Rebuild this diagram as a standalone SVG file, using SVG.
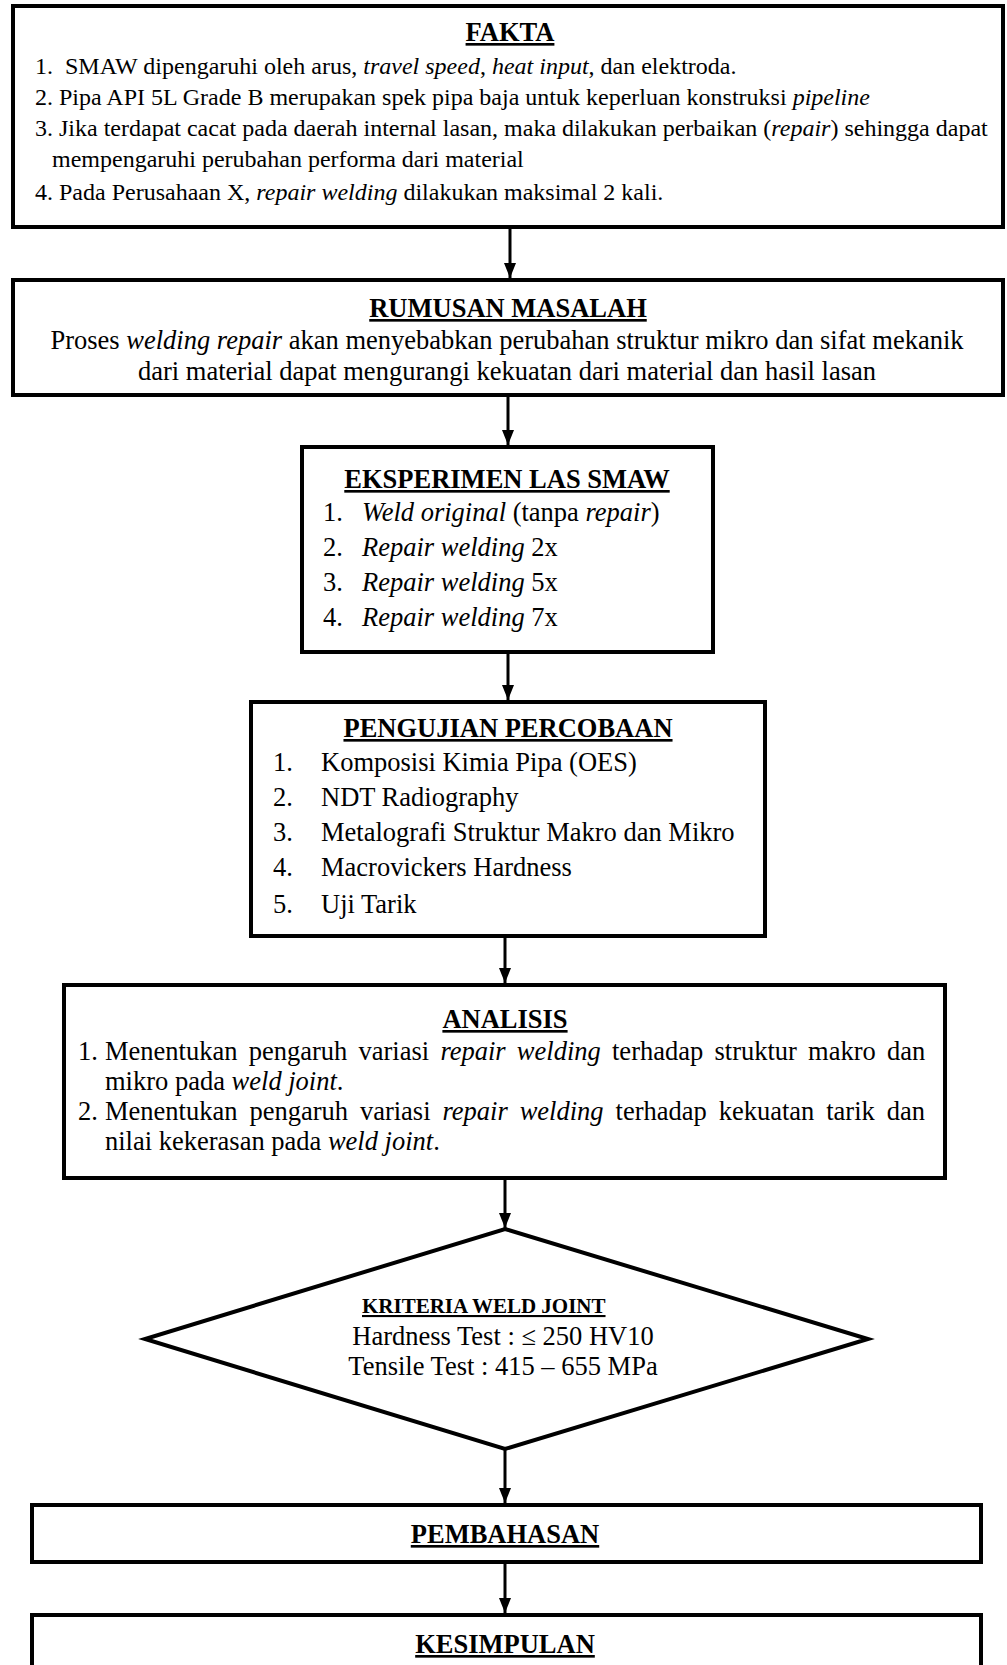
<svg xmlns="http://www.w3.org/2000/svg" width="1007" height="1665" viewBox="0 0 1007 1665">
<style>
.bg{fill:#fff}
.box{fill:#fff;stroke:#000;stroke-width:4;stroke-linejoin:miter}
.t{font-family:"Liberation Serif","Times New Roman",serif;font-size:26.5px;fill:#000}
.f{font-size:24px}
.h{font-weight:bold;text-decoration:underline}
.m{text-anchor:middle}
.i{font-style:italic}
.k{font-size:21px}
.c{stroke:#000;stroke-width:3;fill:none}
</style>
<defs>
<marker id="ah" viewBox="0 0 15 12" markerWidth="15" markerHeight="12" refX="15" refY="6" orient="auto" markerUnits="userSpaceOnUse">
<path d="M0,0 L15,6 L0,12 z" fill="#000"/>
</marker>
</defs>
<rect class="bg" x="0" y="0" width="1007" height="1665"/>

<g id="connectors">
<line class="c" x1="510" y1="227" x2="510" y2="278" marker-end="url(#ah)"/>
<line class="c" x1="508" y1="396" x2="508" y2="445" marker-end="url(#ah)"/>
<line class="c" x1="508" y1="653" x2="508" y2="700" marker-end="url(#ah)"/>
<line class="c" x1="505" y1="936" x2="505" y2="983" marker-end="url(#ah)"/>
<line class="c" x1="505" y1="1179" x2="505" y2="1228" marker-end="url(#ah)"/>
<line class="c" x1="505" y1="1450" x2="505" y2="1503" marker-end="url(#ah)"/>
<line class="c" x1="505" y1="1563" x2="505" y2="1613" marker-end="url(#ah)"/>
</g>

<g id="fakta">
<rect class="box" x="13" y="6" width="990" height="221"/>
<text class="t h m" x="510" y="41">FAKTA</text>
<text class="t f" x="35" y="74" xml:space="preserve">1.  SMAW dipengaruhi oleh arus, <tspan class="i">travel speed</tspan>, <tspan class="i">heat input</tspan>, dan elektroda.</text>
<text class="t f" x="35" y="105">2. Pipa API 5L Grade B merupakan spek pipa baja untuk keperluan konstruksi <tspan class="i">pipeline</tspan></text>
<text class="t f" x="35" y="136">3. Jika terdapat cacat pada daerah internal lasan, maka dilakukan perbaikan (<tspan class="i">repair</tspan>) sehingga dapat</text>
<text class="t f" x="52" y="167">mempengaruhi perubahan performa dari material</text>
<text class="t f" x="35" y="200">4. Pada Perusahaan X, <tspan class="i">repair welding</tspan> dilakukan maksimal 2 kali.</text>
</g>

<g id="rumusan">
<rect class="box" x="13" y="280" width="990" height="115"/>
<text class="t h m" x="508" y="317">RUMUSAN MASALAH</text>
<text class="t m" x="507" y="349">Proses <tspan class="i">welding repair</tspan> akan menyebabkan perubahan struktur mikro dan sifat mekanik</text>
<text class="t m" x="507" y="380">dari material dapat mengurangi kekuatan dari material dan hasil lasan</text>
</g>

<g id="eksperimen">
<rect class="box" x="302" y="447" width="411" height="205"/>
<text class="t h m" x="507" y="488">EKSPERIMEN LAS SMAW</text>
<text class="t" x="323" y="521">1.</text>
<text class="t" x="362" y="521"><tspan class="i">Weld original</tspan> (tanpa <tspan class="i">repair</tspan>)</text>
<text class="t" x="323" y="556">2.</text>
<text class="t" x="362" y="556"><tspan class="i">Repair welding</tspan> 2x</text>
<text class="t" x="323" y="591">3.</text>
<text class="t" x="362" y="591"><tspan class="i">Repair welding</tspan> 5x</text>
<text class="t" x="323" y="626">4.</text>
<text class="t" x="362" y="626"><tspan class="i">Repair welding</tspan> 7x</text>
</g>

<g id="pengujian">
<rect class="box" x="251" y="702" width="514" height="234"/>
<text class="t h m" x="508" y="737">PENGUJIAN PERCOBAAN</text>
<text class="t" x="273" y="771">1.</text>
<text class="t" x="321" y="771">Komposisi Kimia Pipa (OES)</text>
<text class="t" x="273" y="806">2.</text>
<text class="t" x="321" y="806">NDT Radiography</text>
<text class="t" x="273" y="841">3.</text>
<text class="t" x="321" y="841">Metalografi Struktur Makro dan Mikro</text>
<text class="t" x="273" y="876">4.</text>
<text class="t" x="321" y="876">Macrovickers Hardness</text>
<text class="t" x="273" y="913">5.</text>
<text class="t" x="321" y="913">Uji Tarik</text>
</g>

<g id="analisis">
<rect class="box" x="64" y="985" width="881" height="193"/>
<text class="t h m" x="505" y="1028">ANALISIS</text>
<text class="t" x="78" y="1060">1.</text>
<text class="t" x="105" y="1060" style="word-spacing:4.6px">Menentukan pengaruh variasi <tspan class="i">repair welding</tspan> terhadap struktur makro dan</text>
<text class="t" x="105" y="1090">mikro pada <tspan class="i">weld joint</tspan>.</text>
<text class="t" x="78" y="1120">2.</text>
<text class="t" x="105" y="1120" style="word-spacing:5.3px">Menentukan pengaruh variasi <tspan class="i">repair welding</tspan> terhadap kekuatan tarik dan</text>
<text class="t" x="105" y="1150">nilai kekerasan pada <tspan class="i">weld joint</tspan>.</text>
</g>

<g id="kriteria">
<polygon class="box" points="505,1229 868,1339 505,1449 145,1339"/>
<text class="t h k" x="362" y="1313">KRITERIA WELD JOINT</text>
<text class="t m" x="503" y="1345">Hardness Test : ≤ 250 HV10</text>
<text class="t m" x="503" y="1375">Tensile Test : 415 – 655 MPa</text>
</g>

<g id="pembahasan">
<rect class="box" x="32" y="1505" width="949" height="57"/>
<text class="t h m" x="505" y="1543">PEMBAHASAN</text>
</g>

<g id="kesimpulan">
<rect class="box" x="32" y="1615" width="949" height="80"/>
<text class="t h m" x="505" y="1653">KESIMPULAN</text>
</g>
</svg>
